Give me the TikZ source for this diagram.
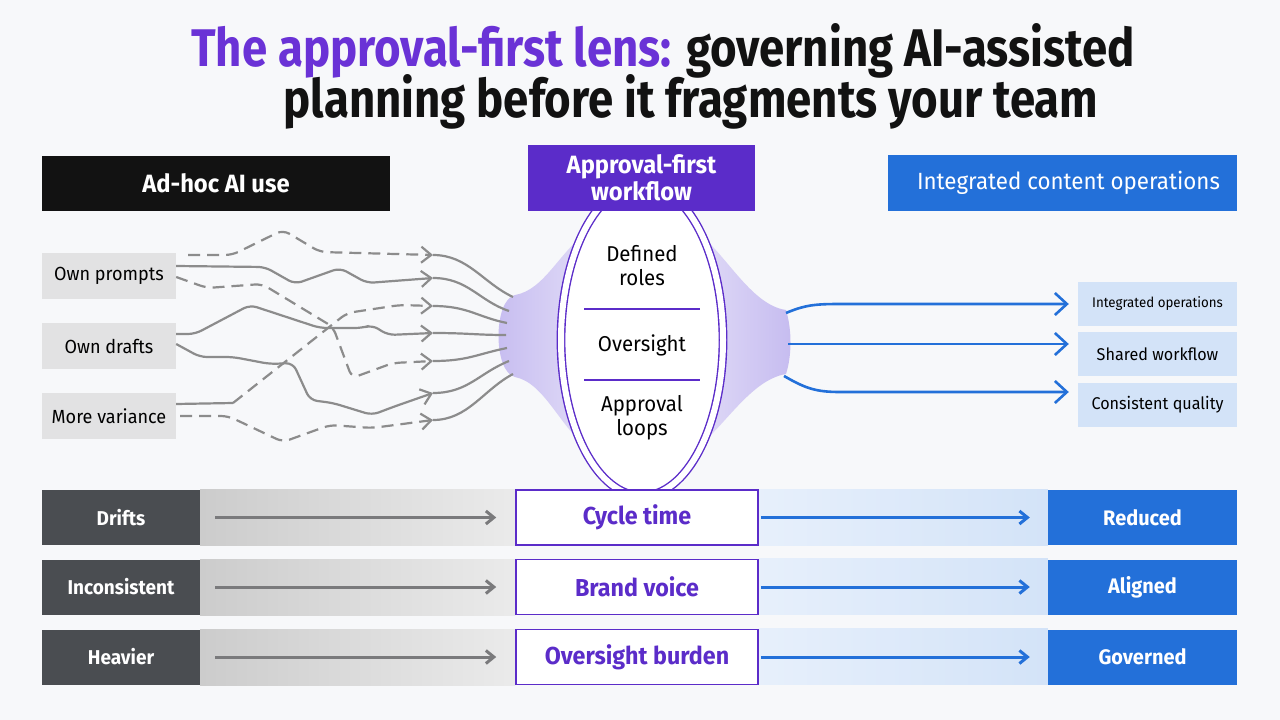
\documentclass[tikz,border=0pt]{standalone}
\usepackage{fontspec}
\setmainfont{Fira Sans}[FakeStretch=0.95]
\newfontfamily\titlefont{Fira Sans}[FakeStretch=0.86]
\usetikzlibrary{shapes,arrows.meta,positioning,calc,backgrounds}

\definecolor{bgpaper}{HTML}{F7F8FA}
\definecolor{titleviolet}{HTML}{6A32D6}
\definecolor{lensviolet}{HTML}{5B2CC9}
\definecolor{opsblue}{HTML}{2370D9}
\definecolor{paleblue}{HTML}{D3E3F8}
\definecolor{itemgray}{HTML}{E2E2E3}
\definecolor{rowgray}{HTML}{4A4D51}
\definecolor{wiregray}{HTML}{8C8C8C}
\definecolor{linkgray}{HTML}{7A7A7C}
\definecolor{funneldeep}{HTML}{C6BCF0}
\definecolor{funnelpale}{HTML}{EFECFB}

\begin{document}
\begin{tikzpicture}[x=1pt, y=-1pt,
    header/.style={rectangle, inner sep=0pt, text=white, align=center, font=\fontsize{25}{27}\selectfont\bfseries},
    source/.style={rectangle, fill=itemgray, minimum width=134, minimum height=46, inner sep=0pt, font=\fontsize{19}{22}\selectfont},
    outcome/.style={rectangle, fill=paleblue, minimum width=159, minimum height=44, inner sep=0pt, font=\fontsize{17}{20}\selectfont},
    lenstext/.style={align=center, font=\fontsize{21.5}{24}\selectfont},
    rowlabel/.style={rectangle, fill=rowgray, text=white, minimum width=158, minimum height=55, inner sep=0pt, font=\fontsize{20}{24}\selectfont\bfseries},
    rowmetric/.style={rectangle, draw=lensviolet, line width=1.5, fill=white, text=lensviolet, minimum width=242, minimum height=55, inner sep=0pt, font=\fontsize{24.5}{28}\selectfont\bfseries},
    rowresult/.style={rectangle, fill=opsblue, text=white, minimum width=189, minimum height=55, inner sep=0pt, font=\fontsize{21}{24}\selectfont\bfseries},
    wire/.style={draw=wiregray, line width=2.2, rounded corners=7},
    wiredash/.style={wire, dash pattern=on 12pt off 7pt},
    feed/.style={-{Straight Barb[length=10pt, width=16pt]}},
    flow/.style={-{Straight Barb[length=12pt, width=22pt]}, draw=opsblue, line width=2.6},
    graylink/.style={-{Straight Barb[length=8pt, width=13pt]}, draw=linkgray, line width=3},
    bluelink/.style={-{Straight Barb[length=8pt, width=13pt]}, draw=opsblue, line width=3}
]
\useasboundingbox (0,0) rectangle (1280,720);
\begin{scope}[on background layer]
    \fill[bgpaper] (0,0) rectangle (1280,720);
\end{scope}

% Title
\node[anchor=base, font=\titlefont\fontsize{53}{58}\selectfont\bfseries, text=black!93] (title1) at (663,66) {\textcolor{titleviolet}{The approval-first lens:} governing AI-assisted};
\node[anchor=base, font=\titlefont\fontsize{53}{58}\selectfont\bfseries, text=black!93] (title2) at (691,117) {planning before it fragments your team};

% Column headers
\node[header, fill=black!93, minimum width=348, minimum height=55] (adhoc) at (216,183.5) {Ad-hoc AI use};
\node[header, fill=lensviolet, minimum width=227, minimum height=66] (lenshead) at (641.5,178) {Approval-first\\workflow};
\node[header, fill=opsblue, minimum width=349, minimum height=56, font=\fontsize{23.5}{26}\selectfont] (opshead) at (1062.5,183) {\hspace*{12pt}Integrated content operations};

% Ad-hoc sources
\node[source] (prompts) at (109,276) {Own prompts};
\node[source] (drafts) at (109,346) {Own drafts};
\node[source] (variance) at (109,416) {More variance};

% Lens with its two funnels
\begin{scope}[on background layer]
    \shade[left color=funneldeep, right color=funnelpale] (642,228) -- (590,230) .. controls (560,250) and (545,290) .. (515,295)
        .. controls (493,300) and (493,372) .. (515,377) .. controls (545,383) and (560,428) .. (590,450) -- (642,452) -- cycle;
    \shade[left color=funnelpale, right color=funneldeep] (642,228) -- (694,230) .. controls (724,250) and (750,305) .. (786,310)
        .. controls (792,330) and (792,355) .. (786,374) .. controls (750,380) and (724,428) .. (694,450) -- (642,452) -- cycle;
    \node[ellipse, draw=lensviolet, double=white, double distance=6pt, line width=1.4pt, fill=white, minimum width=162, minimum height=312, inner sep=0pt] (lens) at (642,340) {};
\end{scope}
\node[lenstext] (roles) at (642,266) {Defined\\roles};
\node[lenstext] (oversight) at (642,345) {Oversight};
\node[lenstext] (loops) at (642,418) {Approval\\loops};
\draw[lensviolet, line width=1.3] (584,309) -- (700,309);
\draw[lensviolet, line width=1.3] (584,380) -- (700,380);

% Arrow tips of the tangle and where the wires enter the lens
\coordinate (a1) at (433,255);
\coordinate (a2) at (433,278);
\coordinate (a3) at (433,306);
\coordinate (a4) at (433,333);
\coordinate (a5) at (433,361);
\coordinate (a6) at (433,393);
\coordinate (a7) at (433,420);
\coordinate (f1) at (513,297);
\coordinate (f2) at (509,311);
\coordinate (f3) at (507,323);
\coordinate (f4) at (506,335);
\coordinate (f5) at (507,348);
\coordinate (f6) at (509,361);
\coordinate (f7) at (513,374);

% Tangled ad-hoc wires
\draw[wiredash, feed] ([xshift=12,yshift=21]prompts.east) -- (232,255) -- (283,230) -- (320,252) -- (a1);
\draw[wire, feed] ([yshift=10]prompts.east) -- (265,267) -- (295,284) -- (340,268) -- (367,283) -- (a2);
\draw[wiredash, feed] ([yshift=-1]prompts.east) -- (207,288) -- (262,284) -- (333,327) -- (352,378) -- (393,363) -- (a5);
\draw[wire, feed] ([yshift=12]drafts.east) -- (195,334) -- (250,305) -- (320,328) -- (362,328) -- (372,325) -- (388,335) -- (a4);
\draw[wire, feed] ([yshift=2]drafts.east) -- (200,357) -- (233,357) -- (270,364) -- (293,363) -- (310,400) -- (333,403) -- (372,415) -- (393,407) -- (a6);
\draw[wire] ([yshift=12]variance.east) -- (233,403);
\draw[wiredash, feed] (233,403) -- (347,313) -- (400,305) -- (a3);
\draw[wiredash, feed] ([xshift=4]variance.east) -- (228,416) -- (283,442) -- (330,425) -- (372,428) -- (a7);
\draw[wire] (a1) .. controls +(35,0) and +(-30,-14) .. (f1);
\draw[wire] (a2) .. controls +(35,0) and +(-30,-10) .. (f2);
\draw[wire] (a3) .. controls +(35,0) and +(-30,-6) .. (f3);
\draw[wire] (a4) .. controls +(35,0) and +(-30,0) .. (f4);
\draw[wire] (a5) .. controls +(35,0) and +(-30,6) .. (f5);
\draw[wire] (a6) .. controls +(35,0) and +(-30,12) .. (f6);
\draw[wire] (a7) .. controls +(35,0) and +(-30,16) .. (f7);

% Integrated outcomes
\node[outcome, font=\fontsize{14}{17}\selectfont] (integrated) at (1157.5,304) {Integrated operations};
\node[outcome] (shared) at (1157.5,354) {Shared workflow};
\node[outcome] (quality) at (1157.5,404.5) {Consistent quality};
\coordinate (o1) at (786,313);
\coordinate (o2) at (788,344);
\coordinate (o3) at (784,376);
\draw[flow] (o1) .. controls (805,305) and (815,304) .. (840,304) -- ([xshift=-9]integrated.west);
\draw[flow] (o2) -- ([xshift=-9,yshift=10]shared.west);
\draw[flow] (o3) .. controls (805,388) and (815,392) .. (840,392) -- ([xshift=-9,yshift=12.5]quality.west);

% Before / lens / after rows
\node[rowlabel] (drifts) at (121,517.5) {Drifts};
\node[rowmetric] (cycle) at (637,517.5) {Cycle time};
\node[rowresult] (reduced) at (1142.5,517.5) {Reduced};
\node[rowlabel] (inconsistent) at (121,587) {Inconsistent};
\node[rowmetric] (brand) at (637,587) {Brand voice};
\node[rowresult] (aligned) at (1142.5,587) {Aligned};
\node[rowlabel] (heavier) at (121,657) {Heavier};
\node[rowmetric] (burden) at (637,657) {Oversight burden};
\node[rowresult] (governed) at (1142.5,657) {Governed};

\begin{scope}[on background layer]
    \shade[left color=black!20, right color=black!8] (drifts.north east) rectangle (cycle.south west);
    \shade[left color=black!20, right color=black!8] (inconsistent.north east) rectangle (brand.south west);
    \shade[left color=black!20, right color=black!8] (heavier.north east) rectangle (burden.south west);
    \shade[left color=paleblue!55, right color=paleblue] (cycle.north east) rectangle (reduced.south west);
    \shade[left color=paleblue!55, right color=paleblue] (brand.north east) rectangle (aligned.south west);
    \shade[left color=paleblue!55, right color=paleblue] (burden.north east) rectangle (governed.south west);
\end{scope}

\draw[graylink] ([xshift=15]drifts.east) -- ([xshift=-19]cycle.west);
\draw[graylink] ([xshift=15]inconsistent.east) -- ([xshift=-19]brand.west);
\draw[graylink] ([xshift=15]heavier.east) -- ([xshift=-19]burden.west);
\draw[bluelink] ([xshift=2]cycle.east) -- ([xshift=-18]reduced.west);
\draw[bluelink] ([xshift=2]brand.east) -- ([xshift=-18]aligned.west);
\draw[bluelink] ([xshift=2]burden.east) -- ([xshift=-18]governed.west);

\end{tikzpicture}
\end{document}
